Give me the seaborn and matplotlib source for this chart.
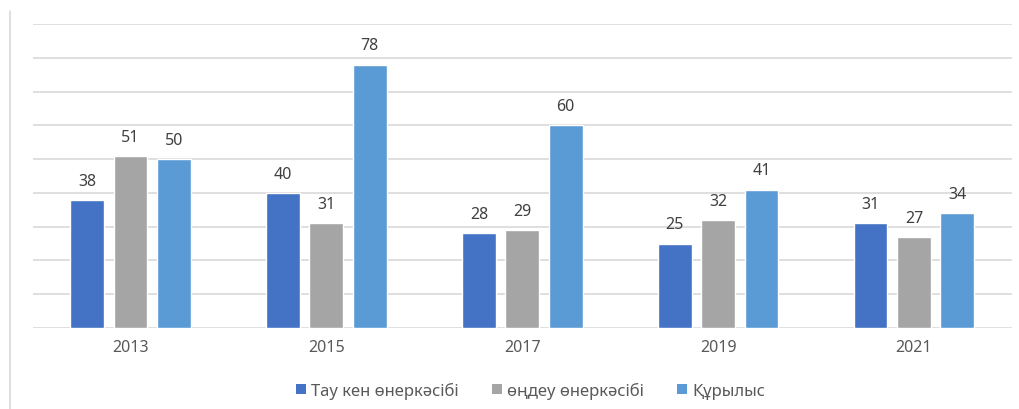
import pandas as pd
import matplotlib
matplotlib.use('Agg')
import matplotlib.pyplot as plt
import seaborn as sns
from matplotlib.lines import Line2D
from matplotlib.patches import Patch

# Деректер
years = ['2013', '2015', '2017', '2019', '2021']
series_names = ['Тау кен өнеркәсібі', 'өңдеу өнеркәсібі', 'Құрылыс']
mining = [38, 40, 28, 25, 31]
processing = [51, 31, 29, 32, 27]
construction = [50, 78, 60, 41, 34]
colors = ['#4472C4', '#A5A5A5', '#5B9BD5']

df = pd.DataFrame({
    'year': years * 3,
    'series': [series_names[0]] * 5 + [series_names[1]] * 5 + [series_names[2]] * 5,
    'value': mining + processing + construction,
})

sns.set_theme(style='white')
plt.rcParams['font.family'] = ['Noto Sans', 'DejaVu Sans']

fig = plt.figure(figsize=(10.2, 4.1), dpi=100)
ax = fig.add_axes([0.032, 0.1976, 0.96, 0.7414])

sns.barplot(data=df, x='year', y='value', hue='series', palette=colors,
            width=0.665, gap=0.22, ax=ax, legend=False, errorbar=None,
            saturation=1)

ax.set_ylim(0, 90)
ax.set_xlim(-0.5, 4.5)
ax.set_yticks(range(0, 91, 10))
ax.yaxis.grid(True, color='#D9D9D9', linewidth=1.2)
ax.set_axisbelow(True)
ax.tick_params(axis='y', left=False, labelleft=False)
ax.tick_params(axis='x', length=0, pad=8, labelsize=11.5, labelcolor='#595959')
ax.set_xlabel('')
ax.set_ylabel('')
for s in ax.spines.values():
    s.set_visible(False)

# Бағана мәндері
for cont in ax.containers:
    ax.bar_label(cont, padding=8, fontsize=11.5, color='#404040')

handles = [Patch(facecolor=c, edgecolor='none') for c in colors]
fig.legend(handles, series_names, loc='center', bbox_to_anchor=(0.52, 0.045),
           ncol=3, frameon=False, fontsize=12, labelcolor='#595959',
           handlelength=0.6, handleheight=0.6, handletextpad=0.3, columnspacing=2.0)

# Сол жақ шекара
fig.add_artist(Line2D([0.0098, 0.0098], [0.0, 0.97], color='#D9D9D9', linewidth=1.2,
                      transform=fig.transFigure))

fig.savefig('out.png', dpi=100)
